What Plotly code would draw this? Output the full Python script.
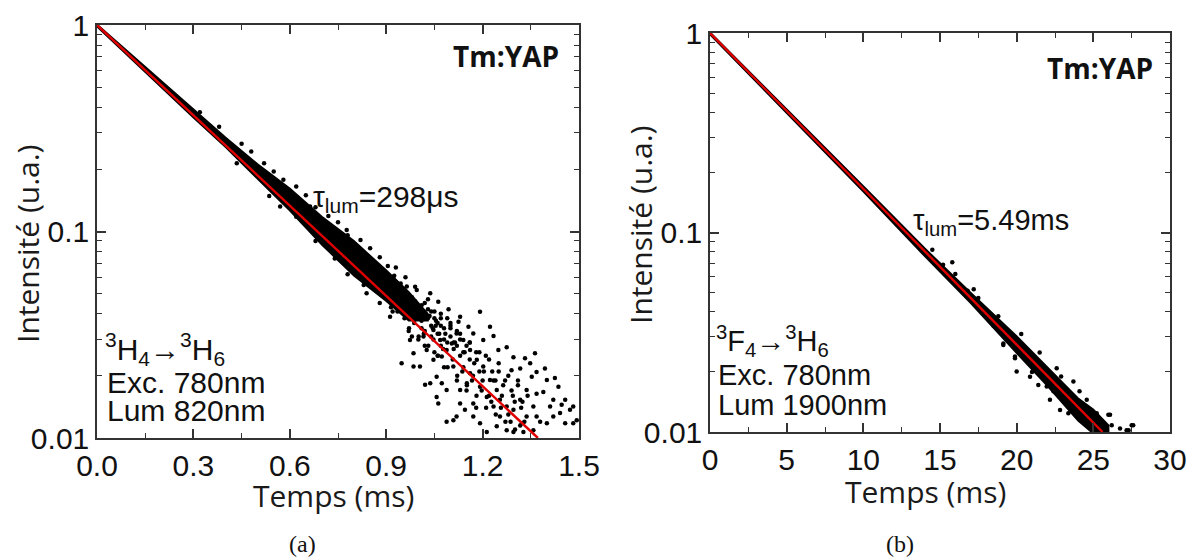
import plotly.graph_objects as go

# ---------------- data (a) : 3H4 -> 3H6, tau = 298 us ----------------
band_a_t = [0, 0.1, 0.2, 0.3, 0.4, 0.5, 0.6, 0.7, 0.8, 0.9, 0.97, 1.03]
band_a_hi = [1.008, 0.736, 0.538, 0.392, 0.286, 0.212, 0.162, 0.118, 0.090, 0.065, 0.051, 0.040]
band_a_lo = [0.982, 0.696, 0.500, 0.356, 0.256, 0.180, 0.126, 0.086, 0.061, 0.046, 0.037, 0.037]

pts_a_t = [0.435, 0.536, 0.570, 0.663, 0.694, 0.777, 0.819, 0.839, 0.870, 0.922, 0.964,
           1.062, 1.094, 1.192, 1.130, 1.125, 1.156, 1.223, 1.234, 1.275, 1.249,
           1.296, 1.332, 1.363, 1.348, 1.317, 1.368, 1.394, 1.425, 1.436, 1.400,
           1.368, 1.389, 1.420, 1.457, 1.446, 1.482, 1.493, 1.457, 1.420, 1.400,
           1.379, 1.337, 1.322, 1.296, 1.275, 1.244, 1.213, 1.192, 1.171, 1.145,
           1.130, 1.119, 1.109, 1.088, 1.062, 1.057, 1.037, 1.021, 0.948, 0.985,
           1.005, 1.047, 1.073, 1.088, 1.104, 1.140, 1.161, 1.182, 1.202, 1.223,
           1.244, 1.254, 1.275, 1.296, 1.317, 1.337, 1.151, 1.130, 1.088, 1.073,
           1.057, 1.109, 1.161, 1.192, 1.213, 1.234, 1.254, 1.171, 1.358, 1.368,
           1.410, 1.441, 1.472, 1.482, 1.358, 1.327, 1.353, 1.290, 1.202, 1.171,
           1.119, 1.047, 1.016, 0.974, 0.985, 1.026, 1.068, 1.016, 0.985, 0.943,
           0.912, 0.995, 1.037,
           1.00, 1.01, 1.02, 1.03, 1.04, 1.05, 1.06, 1.07, 1.08, 1.09, 1.10, 1.11,
           1.12, 1.13, 1.14, 1.15, 1.16, 1.17, 1.18, 1.19, 1.20, 1.21, 1.22, 1.23,
           1.24, 1.25, 1.26, 1.27, 1.28, 1.29, 1.30, 1.31, 1.32, 1.33, 1.34, 1.08,
           1.12, 1.06, 1.15, 1.18, 1.02, 0.98,
           0.32, 0.38, 0.45, 0.48, 0.52, 0.55, 0.58, 0.62, 0.65, 0.68, 0.72, 0.75,
           0.78, 0.82, 0.85, 0.88, 0.93, 0.96, 0.99,
           0.55, 0.62, 0.68, 0.74, 0.78, 0.83, 0.88, 0.92, 0.97,
           0.99, 1.00, 1.01, 1.03, 1.04, 1.05, 1.06, 1.07, 1.09, 1.10, 1.11, 1.13,
           1.14, 1.16, 1.03, 1.07, 1.10, 1.12, 0.95, 0.97, 1.00, 1.02, 1.05, 1.08,
           0.950, 0.957, 0.964, 0.971, 0.980, 0.987, 0.994, 1.001,
           1.010, 1.017, 1.024, 1.031, 1.040, 1.047, 1.054, 1.061,
           1.070, 1.077, 1.084, 1.091, 1.100, 1.107, 1.114, 1.121,
           1.130, 1.137, 1.144, 1.151, 1.160, 1.167, 1.174, 1.181,
           1.190, 1.197, 1.204, 1.211, 1.220, 1.227, 1.234, 1.241,
           1.250, 1.257, 1.264, 1.271, 1.280, 1.287, 1.294, 1.301,
           1.310, 1.317, 1.324,
           0.905, 0.915, 0.925, 0.935, 0.945, 1.035, 1.045, 1.055, 1.065]
pts_a_i = [0.214, 0.1486, 0.132, 0.132, 0.1055, 0.1017, 0.0784, 0.0502, 0.0541, 0.0604, 0.0541,
           0.0457, 0.0420, 0.0409, 0.0387, 0.0366, 0.0346, 0.0346, 0.0312, 0.0275, 0.0267,
           0.0246, 0.0243, 0.0257, 0.0230, 0.0217, 0.0209, 0.0217, 0.0195, 0.0177, 0.0191,
           0.0164, 0.0167, 0.0153, 0.0153, 0.0145, 0.0142, 0.0122, 0.0118, 0.0127, 0.0118,
           0.0120, 0.0127, 0.0118, 0.0107, 0.0109, 0.0114, 0.0107, 0.0118, 0.0127, 0.0137,
           0.0147, 0.0127, 0.0122, 0.0120, 0.0147, 0.0158, 0.0184, 0.0181, 0.0230, 0.0222,
           0.0222, 0.0239, 0.0248, 0.0267, 0.0287, 0.0298, 0.0267, 0.0239, 0.0222, 0.0191,
           0.0171, 0.0153, 0.0142, 0.0137, 0.0153, 0.0171, 0.0184, 0.0171, 0.0171, 0.0184,
           0.0198, 0.0222, 0.0206, 0.0177, 0.0158, 0.0142, 0.0127, 0.0147, 0.0142, 0.0127,
           0.0142, 0.0132, 0.0137, 0.0118, 0.0109, 0.0107, 0.0198, 0.0213, 0.0298, 0.0321,
           0.0321, 0.0333, 0.0310, 0.0298, 0.0257, 0.0267, 0.0298, 0.0387, 0.0432, 0.0417,
           0.0387, 0.0521, 0.0502,
           0.040, 0.034, 0.045, 0.038, 0.031, 0.041, 0.036, 0.028, 0.034, 0.038, 0.031, 0.027,
           0.033, 0.025, 0.022, 0.028, 0.024, 0.020, 0.026, 0.021, 0.019, 0.025, 0.016, 0.021,
           0.019, 0.023, 0.016, 0.019, 0.013, 0.017, 0.015, 0.019, 0.014, 0.012, 0.016, 0.022,
           0.019, 0.025, 0.017, 0.014, 0.028, 0.031,
           0.378, 0.322, 0.266, 0.244, 0.214, 0.195, 0.178, 0.165, 0.150, 0.131, 0.119, 0.111,
           0.096, 0.091, 0.083, 0.075, 0.067, 0.060, 0.054,
           0.160, 0.118, 0.090, 0.074, 0.062, 0.055, 0.045, 0.041, 0.033,
           0.046, 0.043, 0.037, 0.042, 0.035, 0.038, 0.032, 0.035, 0.029, 0.034, 0.029, 0.030,
           0.026, 0.029, 0.047, 0.040, 0.036, 0.028, 0.052, 0.044, 0.030, 0.033, 0.026, 0.030,
           0.050, 0.038, 0.045, 0.034, 0.048, 0.036, 0.041, 0.031,
           0.044, 0.032, 0.039, 0.028, 0.041, 0.030, 0.035, 0.025,
           0.038, 0.027, 0.032, 0.022, 0.035, 0.024, 0.029, 0.020,
           0.032, 0.021, 0.026, 0.018, 0.029, 0.019, 0.023, 0.016,
           0.026, 0.017, 0.021, 0.014, 0.024, 0.015, 0.019, 0.013,
           0.021, 0.014, 0.018, 0.012, 0.020, 0.012, 0.016, 0.011,
           0.018, 0.0115, 0.015,
           0.068, 0.043, 0.061, 0.041, 0.056, 0.039, 0.034, 0.037, 0.032]

fit_a_t = [0.0, 1.372]
fit_a_i = [1.0, 0.01]

# ---------------- data (b) : 3F4 -> 3H6, tau = 5.49 ms ----------------
band_b_t = [0, 5, 10, 14, 17, 20, 22, 24, 25, 26]
band_b_hi = [1.010, 0.418, 0.171, 0.0835, 0.0500, 0.0303, 0.0212, 0.0148, 0.0130, 0.0108]
band_b_lo = [0.980, 0.396, 0.160, 0.0760, 0.0442, 0.0248, 0.0170, 0.0114, 0.0098, 0.0095]

pts_b_t = [18.26, 19.02, 19.13, 19.13, 19.89, 19.89, 20.0, 20.87, 20.98, 21.41, 21.52,
           21.96, 22.17, 22.61, 22.83, 23.15, 23.37, 23.48, 23.70, 24.13, 24.57, 25.0,
           25.22, 25.98, 26.09, 26.20, 26.74, 27.17, 27.3, 27.50, 27.6,
           14.5, 15.2, 16.0, 16.8, 17.5, 18.0, 18.5, 19.5, 20.5, 21.0, 21.8, 22.4,
           23.0, 23.6, 24.3, 24.8, 25.5, 15.8, 17.2, 18.8, 20.3, 21.5, 22.9, 24.1]
pts_b_i = [0.0364, 0.0325, 0.0278, 0.0273, 0.0234, 0.0239, 0.0201, 0.0189, 0.0239, 0.0172, 0.0221,
           0.0169, 0.0145, 0.0209, 0.0129, 0.0153, 0.0124, 0.0145, 0.0179, 0.0115, 0.0145, 0.0110,
           0.0124, 0.0122, 0.0122, 0.0108, 0.0104, 0.0102, 0.0102, 0.0108, 0.0108,
           0.082, 0.069, 0.062, 0.051, 0.047, 0.040, 0.034, 0.030, 0.026, 0.020, 0.020, 0.016,
           0.017, 0.014, 0.012, 0.0115, 0.0105, 0.071, 0.052, 0.038, 0.031, 0.025, 0.019, 0.016]

fit_b_t = [0.0, 25.6]
fit_b_i = [1.0, 0.01]

x_a_ticks = [0, 0.3, 0.6, 0.9, 1.2, 1.5]
x_a_labels = ["0.0", "0.3", "0.6", "0.9", "1.2", "1.5"]
x_b_ticks = [0, 5, 10, 15, 20, 25, 30]
x_b_labels = ["0", "5", "10", "15", "20", "25", "30"]
y_ticks = [0.01, 0.1, 1]
y_labels = ["0.01", "0.1", "1"]

# ---------------- figure ----------------
W, H = 1198, 560
OFF = 8  # page body margin offset
def px(x): return (x - OFF) / W
def py(y): return 1 - (y - OFF) / H

fig = go.Figure()

def add_panel(xa, ya, bt, bhi, blo, pt, pi, ft, fi):
    fig.add_trace(go.Scatter(x=bt + bt[::-1], y=bhi + blo[::-1], fill="toself",
                             fillcolor="black", line=dict(color="black", width=1.5),
                             mode="lines", xaxis=xa, yaxis=ya, hoverinfo="skip"))
    fig.add_trace(go.Scatter(x=pt, y=pi, mode="markers",
                             marker=dict(color="black", size=4.5),
                             xaxis=xa, yaxis=ya))
    fig.add_trace(go.Scatter(x=ft, y=fi, mode="lines",
                             line=dict(color="#e00000", width=2.4),
                             xaxis=xa, yaxis=ya))

add_panel("x", "y", band_a_t, band_a_hi, band_a_lo, pts_a_t, pts_a_i, fit_a_t, fit_a_i)
add_panel("x2", "y2", band_b_t, band_b_hi, band_b_lo, pts_b_t, pts_b_i, fit_b_t, fit_b_i)

tickfont = dict(family="Liberation Sans, Arial", size=30, color="#111")
common_ax = dict(showline=True, linecolor="#333", linewidth=1.5, mirror="allticks",
                 ticks="inside", ticklen=9, tickwidth=1.5, tickcolor="#333",
                 showgrid=False, zeroline=False, tickfont=tickfont, automargin=False)
minor_y = [0.02, 0.03, 0.04, 0.05, 0.06, 0.07, 0.08, 0.09,
           0.2, 0.3, 0.4, 0.5, 0.6, 0.7, 0.8, 0.9]

fig.update_layout(
    width=W, height=H, margin=dict(l=0, r=0, t=0, b=0, autoexpand=False),
    paper_bgcolor="white", plot_bgcolor="white", showlegend=False,
    xaxis=dict(domain=[px(97), px(579)], range=[0, 1.5], anchor="y",
               tickmode="array", tickvals=x_a_ticks, ticktext=x_a_labels,
               minor=dict(tickvals=[0.15, 0.45, 0.75, 1.05, 1.35], ticks="inside",
                          ticklen=5, tickwidth=1.2, tickcolor="#333"),
               **common_ax),
    yaxis=dict(domain=[py(438), py(25)], type="log", range=[-2, 0], anchor="x",
               tickmode="array", tickvals=y_ticks, ticktext=y_labels,
               minor=dict(tickvals=minor_y, ticks="inside", ticklen=5, tickwidth=1.2,
                          tickcolor="#333"),
               **common_ax),
    xaxis2=dict(domain=[px(710), px(1170)], range=[0, 30], anchor="y2",
                tickmode="array", tickvals=x_b_ticks, ticktext=x_b_labels,
                minor=dict(tickvals=[2.5, 7.5, 12.5, 17.5, 22.5, 27.5], ticks="inside",
                           ticklen=5, tickwidth=1.2, tickcolor="#333"),
                **common_ax),
    yaxis2=dict(domain=[py(432), py(33)], type="log", range=[-2, 0], anchor="x2",
                tickmode="array", tickvals=y_ticks, ticktext=y_labels,
                minor=dict(tickvals=minor_y, ticks="inside", ticklen=5, tickwidth=1.2,
                           tickcolor="#333"),
                **common_ax),
)

sans = "Liberation Sans, Arial"
title_font = dict(family="Open Sans", size=30, color="#1a1a1a")
txt = dict(family=sans, size=30, color="#111")
ann = []
def A(text, x, y, font, xanchor="center", yanchor="middle", angle=0):
    ann.append(dict(text=text, x=px(x), y=py(y), xref="paper", yref="paper",
                    xanchor=xanchor, yanchor=yanchor, showarrow=False,
                    font=font, textangle=angle))

# panel (a)
A("Temps (ms)", 333, 495, title_font)
A("Intensité (u.a.)", 27, 244, title_font, angle=-90)
A("<b>Tm:YAP</b>", 506, 56, dict(family="Open Sans", size=28, color="#111"))
A("τ<sub>lum</sub>=298μs", 311, 198, txt, xanchor="left")
A("<sup>3</sup>H<sub>4</sub>→<sup>3</sup>H<sub>6</sub>", 103, 349, txt, xanchor="left")
A("Exc. 780nm", 105, 382, txt, xanchor="left")
A("Lum 820nm", 105, 410, txt, xanchor="left")
A("(a)", 302, 544, dict(family="Liberation Serif, DejaVu Serif", size=24, color="#111"))

# panel (b)
A("Temps (ms)", 925, 491, title_font)
A("Intensité (u.a.)", 641, 225, title_font, angle=-90)
A("<b>Tm:YAP</b>", 1100, 68, dict(family="Open Sans", size=28, color="#111"))
A("τ<sub>lum</sub>=5.49ms", 911, 222, dict(family=sans, size=29, color="#111"), xanchor="left")
A("<sup>3</sup>F<sub>4</sub>→<sup>3</sup>H<sub>6</sub>", 714, 341,
  dict(family=sans, size=29, color="#111"), xanchor="left")
A("Exc. 780nm", 716, 375, dict(family=sans, size=29, color="#111"), xanchor="left")
A("Lum 1900nm", 716, 405, dict(family=sans, size=29, color="#111"), xanchor="left")
A("(b)", 900, 544, dict(family="Liberation Serif, DejaVu Serif", size=24, color="#111"))

fig.update_layout(annotations=ann)
fig.write_html("out.html")
